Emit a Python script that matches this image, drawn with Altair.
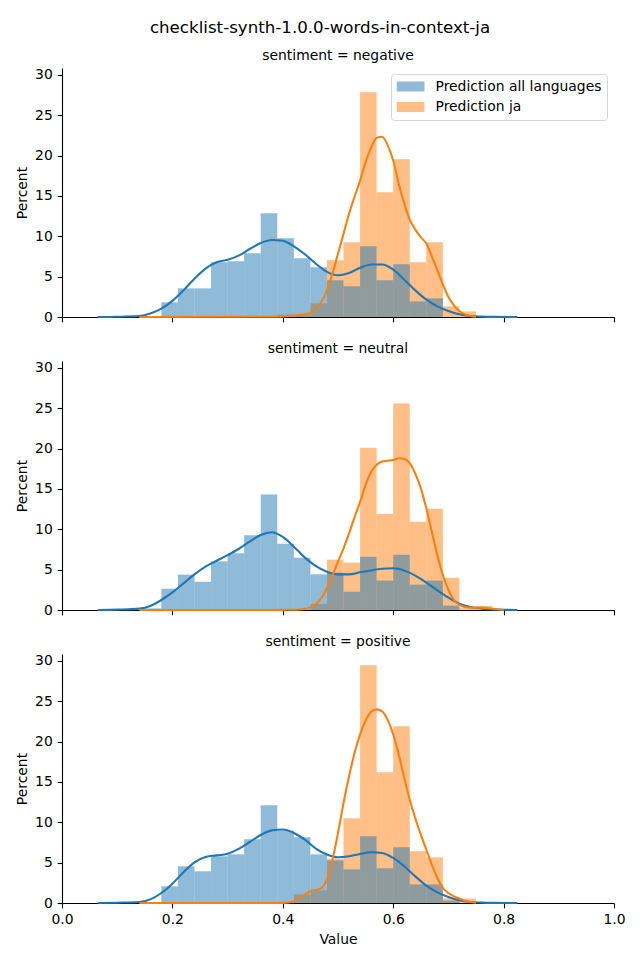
import altair as alt
import pandas as pd

TITLE = "checklist-synth-1.0.0-words-in-context-ja"
SENTIMENTS = ["negative", "neutral", "positive"]
SERIES_ALL = "Prediction all languages"
SERIES_JA = "Prediction ja"
COLOR_ALL = "#1f77b4"
COLOR_JA = "#ff7f0e"

X_TICKS = [0.0, 0.2, 0.4, 0.6, 0.8, 1.0]
Y_TICKS = [0, 5, 10, 15, 20, 25, 30]

# histogram bins (shared)
BIN_EDGES = [0.15, 0.18, 0.21, 0.24, 0.27, 0.30, 0.33, 0.36, 0.39, 0.42, 0.45,
             0.48, 0.51, 0.54, 0.57, 0.60, 0.63, 0.66, 0.69, 0.72, 0.75, 0.78]

# percent per bin
hist_all_negative = [0, 1.82, 3.55, 3.55, 6.78, 6.9, 7.9, 12.85, 9.75, 7.27, 6.16,
                     4.55, 3.8, 8.76, 4.55, 6.53, 1.94, 2.31, 0, 0, 0]
hist_ja_negative = [0, 0, 0, 0, 0, 0, 0, 0, 0.3, 0.3, 1.7,
                    7.02, 9.26, 27.85, 15.45, 19.55, 6.78, 9.26, 1.32, 0.7, 0]
hist_all_neutral = [0.2, 2.64, 4.38, 3.5, 6.03, 7.02, 9.26, 14.3, 8.22, 6.49, 4.42,
                    4.63, 2.27, 6.6, 3.64, 6.86, 3.14, 3.64, 0.54, 0, 0]
hist_ja_neutral = [0, 0, 0, 0, 0, 0, 0, 0, 0, 0, 0.75,
                   6.24, 5.87, 20.1, 11.9, 25.6, 10.95, 12.56, 4.0, 0.3, 0.5]
hist_all_positive = [0, 2.07, 4.55, 3.93, 5.79, 6.03, 7.9, 12.1, 9.0, 8.14, 6.03,
                     5.29, 4.17, 8.26, 4.3, 6.9, 2.31, 2.31, 0.3, 0, 0]
hist_ja_positive = [0, 0, 0, 0, 0, 0, 0, 0, 0, 1.07, 1.57,
                    5.5, 10.5, 29.46, 16.2, 21.9, 6.4, 5.66, 0.6, 0.54, 0]

# KDE curves (percent scale)
kde_all_x = [0.065, 0.10, 0.14, 0.16, 0.18, 0.20, 0.22, 0.24, 0.26, 0.28, 0.30,
             0.32, 0.34, 0.36, 0.38, 0.40, 0.42, 0.44, 0.46, 0.48, 0.50, 0.52,
             0.54, 0.56, 0.58, 0.60, 0.62, 0.64, 0.66, 0.68, 0.70, 0.72, 0.74,
             0.76, 0.78, 0.825]
kde_all_negative = [0, 0.03, 0.12, 0.42, 1.03, 2.0, 3.3, 4.75, 6.0, 6.78, 7.1,
                    7.6, 8.43, 9.17, 9.55, 9.46, 8.76, 7.77, 6.6, 5.6, 5.17, 5.45,
                    6.1, 6.5, 6.5, 5.87, 4.63, 3.3, 2.15, 1.32, 0.74, 0.33, 0.12,
                    0.05, 0.02, 0]
kde_all_neutral = [0, 0.05, 0.17, 0.5, 1.24, 2.19, 3.3, 4.42, 5.37, 6.1, 6.8,
                   7.56, 8.47, 9.3, 9.63, 9.05, 7.85, 6.49, 5.45, 4.75, 4.42, 4.42,
                   4.67, 4.9, 5.12, 5.17, 4.88, 4.26, 3.39, 2.44, 1.53, 0.79, 0.37,
                   0.17, 0.07, 0]
kde_all_positive = [0, 0.04, 0.12, 0.45, 1.24, 2.4, 3.8, 5.04, 5.7, 5.9, 6.1,
                    6.7, 7.56, 8.43, 9.0, 9.1, 8.68, 7.85, 6.75, 6.0, 5.66, 5.79,
                    6.07, 6.28, 6.2, 5.58, 4.55, 3.3, 2.15, 1.32, 0.74, 0.33, 0.12,
                    0.05, 0.02, 0]

kde_ja_x = [0.14, 0.38, 0.40, 0.42, 0.43, 0.44, 0.45, 0.46, 0.47, 0.48, 0.49,
            0.50, 0.51, 0.52, 0.53, 0.54, 0.55, 0.56, 0.57, 0.58, 0.59, 0.60,
            0.61, 0.62, 0.63, 0.64, 0.65, 0.66, 0.67, 0.68, 0.69, 0.70, 0.71,
            0.72, 0.73, 0.74, 0.75]
kde_ja_negative = [0, 0.03, 0.08, 0.17, 0.24, 0.33, 0.55, 1.05, 1.86, 3.3, 5.37,
                   7.85, 10.3, 12.8, 14.9, 16.9, 19.2, 21.0, 22.2, 22.35, 21.3, 19.4,
                   16.5, 14.05, 12.07, 10.83, 9.9, 9.1, 7.52, 5.8, 4.05, 2.48, 1.45,
                   0.74, 0.33, 0.12, 0.03]
kde_ja_positive = [0, 0, 0.02, 0.2, 0.62, 1.03, 1.45, 1.6, 1.86, 2.9, 5.37,
                   8.68, 12.4, 15.7, 18.6, 20.9, 22.6, 23.7, 24.0, 23.76, 22.7, 20.9,
                   18.4, 15.5, 12.8, 10.5, 8.47, 6.6, 4.75, 3.1, 1.86, 1.24, 0.83,
                   0.54, 0.29, 0.12, 0.03]
kde_ja_x_neutral = kde_ja_x + [0.76, 0.78, 0.80]
kde_ja_neutral = [0, 0, 0.02, 0.04, 0.07, 0.12, 0.35, 0.78, 1.5, 2.69, 4.26,
                  6.0, 7.64, 9.5, 11.5, 13.4, 15.5, 17.1, 18.0, 18.4, 18.5, 18.6,
                  18.8, 18.7, 18.2, 16.9, 15.1, 12.6, 9.7, 6.8, 4.34, 2.48, 1.24,
                  0.62, 0.37, 0.29, 0.29, 0.29, 0.15, 0.02]

HIST = {
    ("negative", SERIES_ALL): hist_all_negative,
    ("negative", SERIES_JA): hist_ja_negative,
    ("neutral", SERIES_ALL): hist_all_neutral,
    ("neutral", SERIES_JA): hist_ja_neutral,
    ("positive", SERIES_ALL): hist_all_positive,
    ("positive", SERIES_JA): hist_ja_positive,
}
KDE = {
    ("negative", SERIES_ALL): (kde_all_x, kde_all_negative),
    ("negative", SERIES_JA): (kde_ja_x, kde_ja_negative),
    ("neutral", SERIES_ALL): (kde_all_x, kde_all_neutral),
    ("neutral", SERIES_JA): (kde_ja_x_neutral, kde_ja_neutral),
    ("positive", SERIES_ALL): (kde_all_x, kde_all_positive),
    ("positive", SERIES_JA): (kde_ja_x, kde_ja_positive),
}

hist_rows = []
for (sent, ser), vals in HIST.items():
    for i, v in enumerate(vals):
        if v > 0:
            hist_rows.append(dict(sentiment=sent, series=ser, bin_start=BIN_EDGES[i],
                                  bin_end=BIN_EDGES[i + 1], percent=v))
hist_df = pd.DataFrame(hist_rows)

kde_rows = []
for (sent, ser), (xs, ys) in KDE.items():
    for x, y in zip(xs, ys):
        kde_rows.append(dict(sentiment=sent, series=ser, x=x, y=y))
kde_df = pd.DataFrame(kde_rows)

FONT = "DejaVu Sans"
FS = 13.9
W, H = 552, 249

xscale = alt.Scale(domain=[0, 1], nice=False, zero=False)
yscale = alt.Scale(domain=[0, 30.86], nice=False)
cscale = alt.Scale(domain=[SERIES_ALL, SERIES_JA], range=[COLOR_ALL, COLOR_JA])


def panel(idx, sent):
    last = idx == len(SENTIMENTS) - 1
    if last:
        xaxis = alt.Axis(values=X_TICKS, format=".1f", labelFlush=False, title="Value")
    else:
        xaxis = alt.Axis(values=X_TICKS, labels=False, title=None)
    yaxis = alt.Axis(values=Y_TICKS, title="Percent")
    if idx == 0:
        legend = alt.Legend(orient="none", legendX=329, legendY=6, title=None,
                            symbolType="M-1,-0.35H1V0.35H-1Z", symbolSize=784,
                            symbolOpacity=0.5, symbolStrokeWidth=0,
                            labelFontSize=FS, labelFont=FONT, labelColor="black",
                            labelLimit=400,
                            padding=5.5, rowPadding=6.5, labelOffset=11, clipHeight=14,
                            fillColor="rgba(255,255,255,0.8)", strokeColor="#d6d6d6",
                            cornerRadius=3)
    else:
        legend = None

    h = hist_df[hist_df.sentiment == sent]
    k = kde_df[kde_df.sentiment == sent]

    def bars(ser):
        return alt.Chart(h[h.series == ser]).mark_rect(opacity=0.5, strokeWidth=0).encode(
            x=alt.X("bin_start:Q", scale=xscale, axis=xaxis),
            x2="bin_end:Q",
            y=alt.Y("percent:Q", scale=yscale, axis=yaxis),
            y2=alt.datum(0),
            color=alt.Color("series:N", scale=cscale, legend=legend),
        )

    def kde_line(ser, col):
        return alt.Chart(k[k.series == ser]).mark_line(
            color=col, strokeWidth=2.08, interpolate="monotone"
        ).encode(
            x=alt.X("x:Q", scale=xscale, axis=xaxis),
            y=alt.Y("y:Q", scale=yscale, axis=yaxis),
        )

    return alt.layer(
        bars(SERIES_JA), bars(SERIES_ALL),
        kde_line(SERIES_ALL, COLOR_ALL), kde_line(SERIES_JA, COLOR_JA),
    ).properties(
        width=W, height=H,
        title=alt.TitleParams(text=f"sentiment = {sent}", fontSize=FS, fontWeight="normal",
                              font=FONT, color="black", baseline="alphabetic",
                              offset=-6, frame="group", anchor="middle"),
    )


chart = alt.vconcat(*[panel(i, s) for i, s in enumerate(SENTIMENTS)], spacing=18).properties(
    title=alt.TitleParams(text=TITLE, fontSize=16.67, fontWeight="normal", font=FONT,
                          color="black", anchor="middle", baseline="alphabetic", offset=-1),
    padding={"left": 7, "top": 12, "right": 5, "bottom": 5},
).resolve_legend(color="independent").configure(font=FONT).configure_view(
    strokeWidth=0
).configure_axis(
    grid=False, labelFont=FONT, titleFont=FONT, labelFontSize=FS, titleFontSize=FS,
    labelColor="black", titleColor="black", titleFontWeight="normal",
    tickColor="black", domainColor="black", tickWidth=1.11, domainWidth=1.11,
    tickSize=4.86, labelPadding=4.86, titlePadding=5.6,
)

chart.save("out.html", embed_options={"renderer": "svg", "actions": False})
